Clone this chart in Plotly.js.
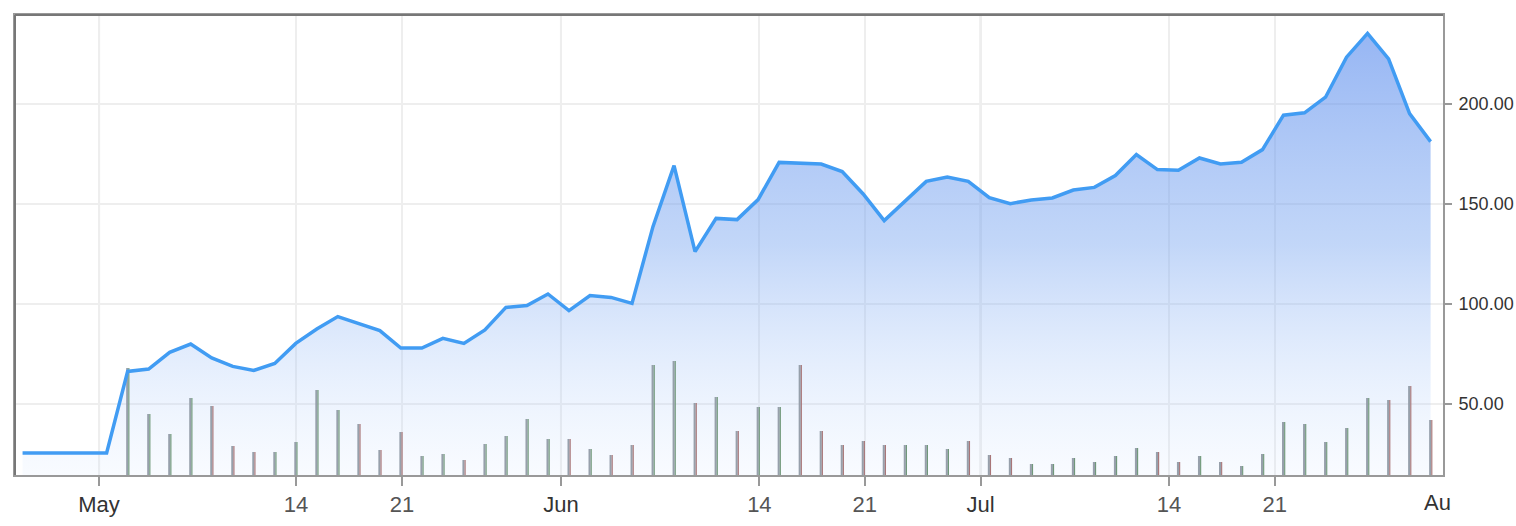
<!DOCTYPE html>
<html>
<head>
<meta charset="utf-8">
<script src="https://cdn.plot.ly/plotly-3.0.1.min.js"></script>
<style>
  html, body { margin: 0; padding: 0; background: #fff; }
  #chart { width: 1516px; height: 526px; }
</style>
</head>
<body>
<div id="chart"></div>
<script>
// ---- data ----
const price = [
  25.5, 25.5, 25.5, 25.5, 25.5,
  66.3, 67.5, 75.8, 80.0, 73.0, 68.8, 66.8, 70.3, 80.3, 87.5, 93.7, 90.0, 86.7, 78.0, 78.0, 82.8, 80.3, 87.0, 98.3,
  99.2, 105.0, 96.7, 104.2, 103.3, 100.3, 138.8, 169.2, 126.2, 142.8, 142.2, 152.2, 170.8, 170.6, 170.0, 166.2,
  155.0, 141.7, 151.7, 161.3, 163.5, 161.3, 153.2,
  150.2, 152.0, 153.0, 157.0, 158.3, 164.2, 174.7, 167.2, 166.9, 173.0, 170.0, 170.9, 177.2, 194.4, 195.6,
  203.4, 223.4, 235.3, 222.6, 195.2, 181.2
];
const volume = [
  null, null, null, null, null,
  10.7, 6.1, 4.1, 7.7, 6.9, 2.9, 2.3, 2.3, 3.3, 8.5, 6.5, 5.1, 2.5, 4.3, 1.9, 2.1, 1.5, 3.1, 3.9,
  5.6, 3.6, 3.6, 2.6, 2.0, 3.0, 11.0, 11.4, 7.2, 7.8, 4.4, 6.8, 6.8, 11.0, 4.4, 3.0,
  3.4, 3.0, 3.0, 3.0, 2.6, 3.4, 2.0,
  1.7, 1.1, 1.1, 1.7, 1.3, 1.9, 2.7, 2.3, 1.3, 1.9, 1.3, 0.9, 2.1, 5.3, 5.1,
  3.3, 4.7, 7.7, 7.5, 8.9, 5.5
];
const tickLabels = ["May", "14", "21", "Jun", "14", "21", "Jul", "14", "21"];
const monthLabels = ["May", "Jun", "Jul"];
const yTicks = [50, 100, 150, 200];

// ---- axis configuration (trading-day index positions of the date ticks) ----
const tickPos = [3.64, 13.01, 18.05, 25.62, 35.06, 40.07, 45.59, 54.55, 59.58];
const endLabel = "Au";
const endLabelPos = 66.6;

const idx = price.map((_, i) => i);
const up = price.map((p, i) => i === 0 || p >= price[i - 1]);
const dirColor = up.map(u => u ? 'rgb(112,152,122)' : 'rgb(168,118,120)');

const tickText = tickLabels.map(t => monthLabels.includes(t) ? t : '<span style="color:#555;font-size:22px">' + t + '</span>');

const monthShapes = tickPos
  .filter((_, i) => monthLabels.includes(tickLabels[i]))
  .map(p => ({
    type: 'line', xref: 'x', yref: 'paper', x0: p, x1: p, y0: 0, y1: 1,
    line: { color: '#d6d6d6', width: 2 }, layer: 'between'
  }));

const traces = [
  { // area
    x: idx, y: price, type: 'scatter', mode: 'lines',
    line: { width: 0, color: 'rgba(0,0,0,0)' },
    fill: 'tozeroy',
    fillgradient: {
      type: 'vertical', start: 14.5, stop: 244.5,
      colorscale: [[0, 'rgba(200,222,255,0.12)'], [0.5, 'rgba(120,165,240,0.45)'], [1, 'rgba(80,132,236,0.62)']]
    },
    hoverinfo: 'skip', xaxis: 'x', yaxis: 'y'
  },
  { // volume gray part
    x: idx, y: volume, type: 'bar', width: 0.1, offset: -0.07,
    marker: { color: 'rgba(145,155,167,0.95)', line: { width: 0 } },
    hoverinfo: 'skip', xaxis: 'x', yaxis: 'y2'
  },
  { // volume direction-coloured part
    x: idx, y: volume, type: 'bar', width: 0.055, offset: 0.03,
    marker: { color: dirColor, line: { width: 0 } },
    hoverinfo: 'skip', xaxis: 'x', yaxis: 'y2'
  },
  { // price line
    x: idx, y: price, type: 'scatter', mode: 'lines',
    line: { color: '#419cf3', width: 3.5 },
    xaxis: 'x', yaxis: 'y3'
  }
];

const fontFam = '"Liberation Sans", Arial, Helvetica, sans-serif';

const layout = {
  width: 1516, height: 526,
  margin: { l: 15, r: 73, t: 15, b: 51, pad: 0 },
  paper_bgcolor: '#ffffff', plot_bgcolor: '#ffffff',
  showlegend: false,
  barmode: 'overlay',
  font: { family: fontFam, color: '#333', size: 18 },
  xaxis: {
    range: [-0.36, 67.59],
    tickmode: 'array', tickvals: tickPos, ticktext: tickText,
    ticks: 'outside', ticklen: 9, tickwidth: 2, tickcolor: '#999',
    showgrid: true, gridcolor: '#eeeeee', gridwidth: 2,
    showline: true, linecolor: '#999', linewidth: 2, mirror: true,
    zeroline: false, fixedrange: true, automargin: false,
    tickfont: { family: fontFam, size: 22, color: '#333' }
  },
  yaxis: {
    range: [14.5, 244.5], side: 'right',
    tickmode: 'array', tickvals: yTicks, tickformat: '.2f',
    ticks: 'outside', ticklen: 7, tickwidth: 2, tickcolor: '#999',
    ticklabelstandoff: 3,
    showgrid: true, gridcolor: '#eeeeee', gridwidth: 2,
    showline: true, linecolor: '#999', linewidth: 2, mirror: true,
    zeroline: false, fixedrange: true, automargin: false,
    tickfont: { family: fontFam, size: 18, color: '#333' }
  },
  yaxis2: {
    overlaying: 'y', range: [0, 46], visible: false, showgrid: false, zeroline: false, fixedrange: true
  },
  yaxis3: {
    overlaying: 'y', range: [14.5, 244.5], visible: false, showgrid: false, zeroline: false, fixedrange: true
  },
  shapes: monthShapes.concat([
    { type: 'line', xref: 'paper', yref: 'paper', x0: 0, x1: 0, y0: 0, y1: 1, line: { color: '#777', width: 2 }, layer: 'above' },
    { type: 'line', xref: 'paper', yref: 'paper', x0: 0, x1: 1, y0: 1, y1: 1, line: { color: '#777', width: 2 }, layer: 'above' }
  ]),
  annotations: [{
    text: endLabel, xref: 'x', yref: 'paper', x: endLabelPos, y: 0,
    xanchor: 'left', yanchor: 'top', yshift: -13, showarrow: false,
    font: { family: fontFam, size: 22, color: '#333' }
  }]
};

Plotly.newPlot('chart', traces, layout, { displayModeBar: false, staticPlot: true });
</script>
</body>
</html>
